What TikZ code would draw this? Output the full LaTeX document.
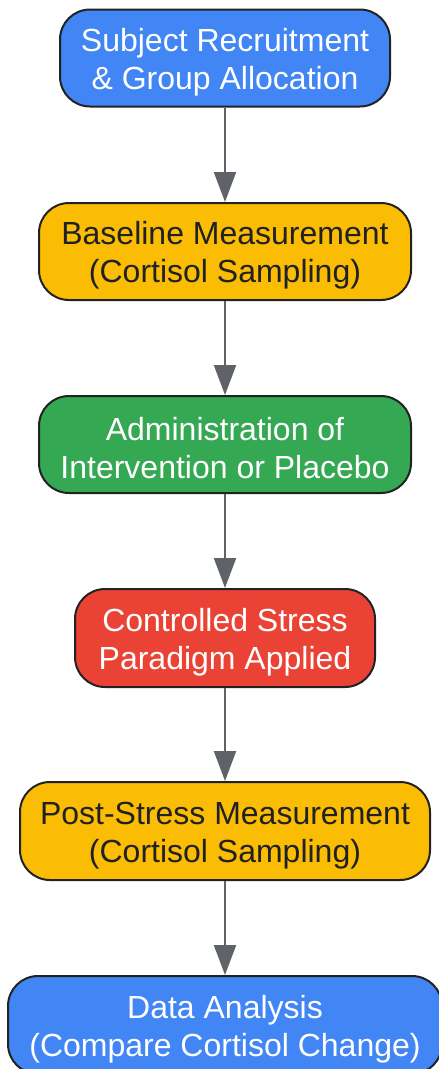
\documentclass[tikz,border=0pt]{standalone}
\usepackage{fontspec}
\setmainfont{Liberation Sans}
\usetikzlibrary{arrows.meta}
\definecolor{gblue}{HTML}{4285F4}
\definecolor{gyellow}{HTML}{FBBC04}
\definecolor{ggreen}{HTML}{34A853}
\definecolor{gred}{HTML}{EA4335}
\definecolor{edge}{HTML}{222222}
\definecolor{arrowc}{HTML}{5F6368}
\definecolor{darktext}{HTML}{202124}
\newcommand{\tp}{\rule{0pt}{31pt}}
\tikzset{
  stepbox/.style={draw=edge, line width=2pt, rounded corners=30pt, align=center,
    font=\fontsize{32}{38}\selectfont, inner sep=0pt, minimum height=97pt},
  flow/.style={draw=arrowc, line width=2.2pt, -{Triangle[width=22pt,length=30pt]}}
}
\begin{document}
\begin{tikzpicture}[x=1pt,y=1pt]
\useasboundingbox (0,0) rectangle (439,-1069);
\clip (0,0) rectangle (439,-1069);
\node[stepbox, fill=gblue, text=white, minimum width=330pt] (a) at (225,-58) {\tp Subject Recruitment\\\& Group Allocation};
\node[stepbox, fill=gyellow, text=darktext, minimum width=372pt] (b) at (225,-251.5) {\tp Baseline Measurement\\(Cortisol Sampling)};
\node[stepbox, fill=ggreen, text=white, minimum width=372pt] (c) at (225,-444.5) {\tp Administration of\\Intervention or Placebo};
\node[stepbox, fill=gred, text=white, minimum width=300pt, minimum height=98pt] (d) at (225,-638) {\tp Controlled Stress\\Paradigm Applied};
\node[stepbox, fill=gyellow, text=darktext, minimum width=410pt, minimum height=98pt] (e) at (225,-831) {\tp Post-Stress Measurement\\(Cortisol Sampling)};
\node[stepbox, fill=gblue, text=white, minimum width=434pt, minimum height=98pt] (f) at (225,-1025) {\tp Data Analysis\\(Compare Cortisol Change)};
\draw[flow] (a) -- (b);
\draw[flow] (b) -- (c);
\draw[flow] (c) -- (d);
\draw[flow] (d) -- (e);
\draw[flow] (e) -- (f);
\end{tikzpicture}
\end{document}
